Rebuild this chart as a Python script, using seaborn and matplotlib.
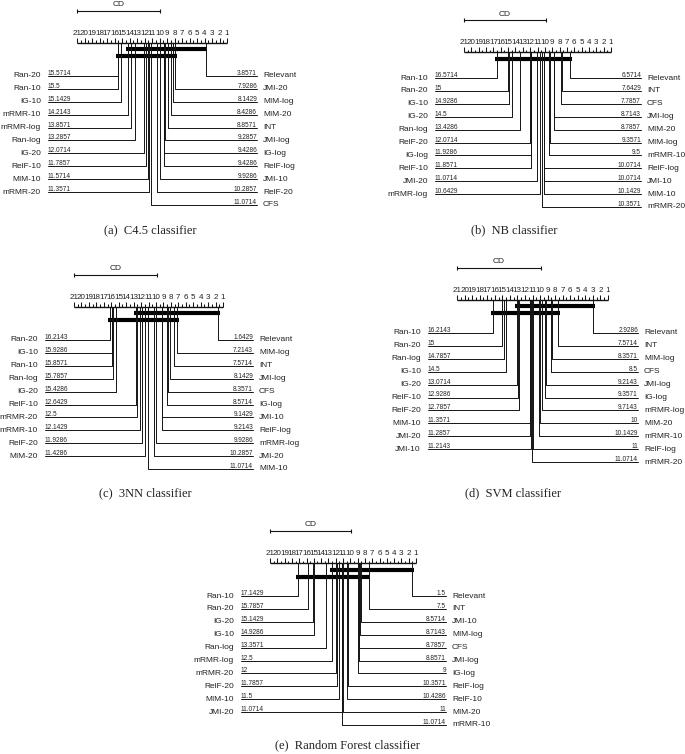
"""
Critical difference diagrams (Nemenyi test) for five classifiers
"""
import numpy as np
import matplotlib
matplotlib.use("Agg")
import matplotlib.pyplot as plt
import seaborn as sns

sns.set_theme(style="white")
plt.rcParams['font.family'] = ['Liberation Sans', 'DejaVu Sans']

# average ranks, listed best half first then the rest (order kept for ties)
c45_methods = ['Relevant', 'JMI-20', 'MIM-log', 'MIM-20', 'INT', 'JMI-log', 'IG-log',
               'RelF-log', 'JMI-10', 'RelF-20', 'CFS',
               'Ran-20', 'Ran-10', 'IG-10', 'mRMR-10', 'mRMR-log', 'Ran-log', 'IG-20',
               'RelF-10', 'MIM-10', 'mRMR-20']
c45_ranks = [3.8571, 7.9286, 8.1429, 8.4286, 8.8571, 9.2857, 9.4286,
             9.4286, 9.9286, 10.2857, 11.0714,
             15.5714, 15.5, 15.1429, 14.2143, 13.8571, 13.2857, 12.0714,
             11.7857, 11.5714, 11.3571]

nb_methods = ['Relevant', 'INT', 'CFS', 'JMI-log', 'MIM-20', 'MIM-log', 'mRMR-10',
              'RelF-log', 'JMI-10', 'MIM-10', 'mRMR-20',
              'Ran-10', 'Ran-20', 'IG-10', 'IG-20', 'Ran-log', 'RelF-20', 'IG-log',
              'RelF-10', 'JMI-20', 'mRMR-log']
nb_ranks = [6.5714, 7.6429, 7.7857, 8.7143, 8.7857, 9.3571, 9.5,
            10.0714, 10.0714, 10.1429, 10.3571,
            16.5714, 15.0, 14.9286, 14.5, 13.4286, 12.0714, 11.9286,
            11.8571, 11.0714, 10.6429]

knn_methods = ['Relevant', 'MIM-log', 'INT', 'JMI-log', 'CFS', 'IG-log', 'JMI-10',
               'RelF-log', 'mRMR-log', 'JMI-20', 'MIM-10',
               'Ran-20', 'IG-10', 'Ran-10', 'Ran-log', 'IG-20', 'RelF-10', 'mRMR-20',
               'mRMR-10', 'RelF-20', 'MIM-20']
knn_ranks = [1.6429, 7.2143, 7.5714, 8.1429, 8.3571, 8.5714, 9.1429,
             9.2143, 9.9286, 10.2857, 11.0714,
             16.2143, 15.9286, 15.8571, 15.7857, 15.4286, 12.6429, 12.5,
             12.1429, 11.9286, 11.4286]

svm_methods = ['Relevant', 'INT', 'MIM-log', 'CFS', 'JMI-log', 'IG-log', 'mRMR-log',
               'MIM-20', 'mRMR-10', 'RelF-log', 'mRMR-20',
               'Ran-10', 'Ran-20', 'Ran-log', 'IG-10', 'IG-20', 'RelF-10', 'RelF-20',
               'MIM-10', 'JMI-20', 'JMI-10']
svm_ranks = [2.9286, 7.5714, 8.3571, 8.5, 9.2143, 9.3571, 9.7143,
             10.0, 10.1429, 11.0, 11.0714,
             16.2143, 15.0, 14.7857, 14.5, 13.0714, 12.9286, 12.7857,
             11.3571, 11.2857, 11.2143]

rf_methods = ['Relevant', 'INT', 'JMI-10', 'MIM-log', 'CFS', 'JMI-log', 'IG-log',
              'RelF-log', 'RelF-10', 'MIM-20', 'mRMR-10',
              'Ran-10', 'Ran-20', 'IG-20', 'IG-10', 'Ran-log', 'mRMR-log', 'mRMR-20',
              'RelF-20', 'MIM-10', 'JMI-20']
rf_ranks = [1.5, 7.5, 8.5714, 8.7143, 8.7857, 8.8571, 9.0,
            10.3571, 10.4286, 11.0, 11.0714,
            17.1429, 15.7857, 15.1429, 14.9286, 13.3571, 12.5, 12.0,
            11.7857, 11.5, 11.0714]

captions = ['(a)  C4.5 classifier', '(b)  NB classifier', '(c)  3NN classifier',
            '(d)  SVM classifier', '(e)  Random Forest classifier']

critical_difference = 11.1

W, H = 685, 754
LINE = '#141414'
TEXT = '#222222'


def make_panel(fig, axis_left, axis_right, axis_y, k):
    """
    Axes whose x is the rank and y is pixels below the rank axis
    """
    ppr = (axis_right - axis_left) / (k - 1)
    x0, x1 = axis_left - 85, axis_right + 80
    y0, y1 = axis_y - 45, axis_y + 180
    ax = fig.add_axes([x0 / W, 1 - y1 / H, (x1 - x0) / W, (y1 - y0) / H])
    ax.set_xlim(k + 85 / ppr, 1 - 80 / ppr)
    ax.set_ylim(180, -45)
    ax.axis('off')
    return ax, ppr


def find_cliques(sorted_ranks, cd):
    groups = []
    k = len(sorted_ranks)
    for i in range(k):
        j = i
        while j + 1 < k and sorted_ranks[j + 1] - sorted_ranks[i] <= cd:
            j += 1
        if j > i:
            groups.append((i, j))
    return [g for g in groups
            if not any(o != g and o[0] <= g[0] and g[1] <= o[1] for o in groups)]


def draw_cd(ax, ppr, methods, ranks, cd, step=12.9):
    ranks = np.asarray(ranks, dtype=float)
    k = len(ranks)
    order = np.argsort(ranks, kind='stable')
    sr = ranks[order]
    n_right = int(np.ceil(k / 2))
    right = order[:n_right]
    left = order[n_right:][::-1]

    # rank axis with ticks and labels
    ax.plot([k, 1], [0, 0], color=LINE, lw=1.0, solid_capstyle='butt')
    ticks = np.arange(1, k + 0.5, 0.5)
    major = ticks[ticks % 1 == 0]
    minor = ticks[ticks % 1 != 0]
    ax.vlines(major, -5, 0, color=LINE, lw=0.75)
    ax.vlines(minor, -2.5, 0, color=LINE, lw=0.75)
    for t in major:
        ax.text(t, -8, str(int(t)), ha='center', va='baseline', fontsize=5.8, color=TEXT)

    # critical difference bar
    ax.plot([k, k - cd], [-32, -32], color=LINE, lw=0.8)
    ax.vlines([k, k - cd], -34, -30, color=LINE, lw=0.8)
    ax.text(k - cd / 2, -36.5, 'CD', ha='center', va='baseline', fontsize=6, color=TEXT)

    # cliques of methods that are not significantly different
    cliques = find_cliques(sr, cd)
    for n, (i, j) in enumerate(cliques):
        y = 6.5 + 7 * n
        ax.plot([sr[j] + 0.25, sr[i] - 0.25], [y, y], color='black', lw=3,
                solid_capstyle='butt')

    row0 = 6.5 + 7 * len(cliques) + 12.5
    left_end = k + 29 / ppr
    right_end = 1 - 30 / ppr

    for n, idx in enumerate(right):
        r, y = ranks[idx], row0 + n * step
        ax.plot([r, r, right_end], [0, y, y], color=LINE, lw=0.7)
        ax.text(right_end, y - 1, f'{r:g}', ha='right', va='baseline',
                fontsize=4.7, color=TEXT)
        ax.text(right_end - 6 / ppr, y, methods[idx], ha='left', va='center',
                fontsize=6, color=TEXT)

    for n, idx in enumerate(left):
        r, y = ranks[idx], row0 + n * step
        ax.plot([r, r, left_end], [0, y, y], color=LINE, lw=0.7)
        ax.text(left_end, y - 1, f'{r:g}', ha='left', va='baseline',
                fontsize=4.7, color=TEXT)
        ax.text(left_end + 7 / ppr, y, methods[idx], ha='right', va='center',
                fontsize=6, color=TEXT)


fig = plt.figure(figsize=(W / 100, H / 100), dpi=100)

panels = [
    (c45_methods, c45_ranks, (77, 227, 43), (150, 230)),
    (nb_methods, nb_ranks, (464, 611, 52), (514, 230)),
    (knn_methods, knn_ranks, (74, 223, 307), (145, 493)),
    (svm_methods, svm_ranks, (457, 608, 300), (513, 493)),
    (rf_methods, rf_ranks, (270, 416, 563), (347, 745)),
]

for (methods, ranks, geom, cap), caption in zip(panels, captions):
    ax, ppr = make_panel(fig, *geom, k=len(ranks))
    draw_cd(ax, ppr, methods, ranks, critical_difference)
    fig.text(cap[0] / W, 1 - cap[1] / H, caption, ha='center', va='center',
             fontsize=9, family=['Liberation Serif', 'DejaVu Serif'], color='#222222')

plt.savefig('out.png', dpi=100)
plt.close()
